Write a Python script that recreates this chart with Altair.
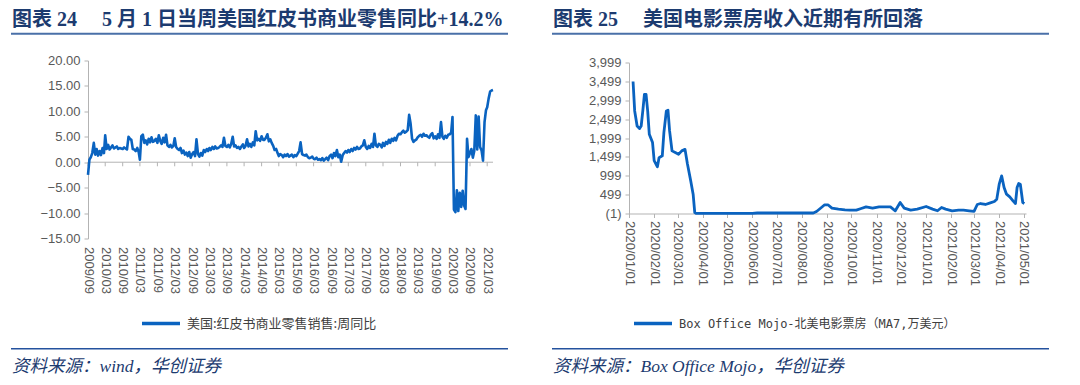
import altair as alt
import pandas as pd

# ---------------- left panel: Redbook weekly YoY (%), read twice a month ----------------
yoy_name = "美国:红皮书商业零售销售:周同比"
yoy_2009 = [-2.5, 0.5, 1.0, 1.8, 3.8, 1.5, 2.6, 1.3]
yoy_2010 = [2.2, 1.4, 2.8, 1.8, 5.3, 2.6, 3.4, 2.5, 2.9, 3.3, 2.7, 2.9,
            3.1, 2.6, 2.8, 2.7, 2.6, 2.9, 2.7, 2.5, 5.0, 4.6, 4.4, 2.6]
yoy_2011 = [2.5, 2.2, 2.8, 2.0, 0.5, 5.1, 5.4, 3.8, 4.3, 3.5, 4.6, 3.9,
            4.9, 4.0, 4.2, 4.6, 3.8, 5.3, 4.2, 3.6, 4.8, 3.9, 5.4, 3.3]
yoy_2012 = [3.0, 3.4, 2.9, 3.2, 4.7, 3.0, 2.6, 2.4, 2.8, 1.8, 2.3, 1.5,
            1.9, 1.2, 2.0, 0.9, 1.6, 2.0, 1.2, 4.5, 1.6, 1.1, 1.8, 1.3]
yoy_2013 = [2.4, 2.0, 2.6, 2.2, 2.8, 2.4, 3.0, 2.6, 3.1, 2.7, 2.8, 3.0,
            3.3, 3.0, 4.8, 3.2, 3.0, 3.4, 2.9, 3.6, 5.0, 3.1, 3.3, 2.8]
yoy_2014 = [3.0, 2.6, 3.1, 3.5, 2.8, 3.2, 4.5, 3.1, 3.6, 3.0, 3.9, 3.3,
            6.1, 4.3, 4.6, 4.2, 5.1, 4.4, 4.4, 4.8, 5.5, 4.1, 4.5, 3.8]
yoy_2015 = [3.2, 2.4, 2.6, 1.8, 1.2, 1.6, 1.4, 1.0, 1.5, 1.2, 1.6, 1.1,
            1.3, 1.5, 1.0, 1.4, 1.2, 1.7, 2.2, 3.9, 1.6, 1.4, 1.3, 1.5]
yoy_2016 = [1.0, 0.8, 0.9, 1.1, 0.7, 0.6, 0.9, 0.5, 0.6, 0.4, 0.8, 0.3,
            0.6, 0.9, 0.4, 1.2, 1.5, 0.8, 1.8, 1.2, 2.4, 1.0, 1.5, 0.1]
yoy_2017 = [1.4, 1.8, 2.2, 1.9, 2.4, 2.0, 2.6, 2.2, 2.8, 2.5, 3.0, 2.6,
            2.7, 3.1, 3.3, 4.3, 3.0, 2.6, 3.2, 2.8, 3.6, 3.0, 5.6, 3.3]
yoy_2018 = [3.0, 3.6, 3.4, 2.9, 3.8, 3.2, 4.0, 3.6, 4.4, 3.8, 4.6, 4.2,
            4.8, 4.3, 5.2, 5.6, 5.5, 5.9, 6.2, 5.8, 6.0, 6.3, 9.3, 7.6]
yoy_2019 = [4.6, 4.0, 4.3, 4.5, 4.9, 5.2, 5.4, 5.0, 5.6, 5.2, 5.3, 5.0,
            4.8, 5.4, 5.7, 4.7, 5.1, 4.6, 5.5, 4.8, 7.9, 5.0, 4.6, 5.2]
yoy_2020 = [4.8, 5.4, 5.5, 5.8, 8.9, -9.3, -9.8, -5.5, -9.6, -6.0, -8.8, -5.6,
            -8.5, -9.2, 4.6, 1.0, 1.8, 2.6, 0.9, 2.2, 9.2, 2.5, 9.0, 3.0]
yoy_2021 = [2.3, 0.3, 7.9, 10.2, 10.8, 12.5, 13.9, 14.1, 14.2]
yoy_values = (yoy_2009 + yoy_2010 + yoy_2011 + yoy_2012 + yoy_2013 + yoy_2014 + yoy_2015
              + yoy_2016 + yoy_2017 + yoy_2018 + yoy_2019 + yoy_2020 + yoy_2021)

yoy_dates = []
for m in pd.date_range("2009-09-01", "2021-04-01", freq="MS"):
    yoy_dates += [m.strftime("%Y-%m-%d"), (m + pd.Timedelta(days=15)).strftime("%Y-%m-%d")]
yoy_dates.append("2021-05-01")

yoy_ticks = ["2009/09", "2010/03", "2010/09", "2011/03", "2011/09", "2012/03", "2012/09",
             "2013/03", "2013/09", "2014/03", "2014/09", "2015/03", "2015/09", "2016/03",
             "2016/09", "2017/03", "2017/09", "2018/03", "2018/09", "2019/03", "2019/09",
             "2020/03", "2020/09", "2021/03"]
yoy_y_ticks = [-15, -10, -5, 0, 5, 10, 15, 20]

# ---------------- right panel: North America box office MA7 (10k USD) ----------------
box_name = "Box Office Mojo-北美电影票房（MA7,万美元）"
box_dates = ["2020-01-06", "2020-01-08", "2020-01-11", "2020-01-14", "2020-01-16", "2020-01-18",
             "2020-01-20", "2020-01-22", "2020-01-24", "2020-01-26", "2020-01-30", "2020-02-01",
             "2020-02-05", "2020-02-07", "2020-02-11", "2020-02-13", "2020-02-16", "2020-02-18",
             "2020-02-20", "2020-02-23", "2020-02-27", "2020-03-02", "2020-03-06", "2020-03-10",
             "2020-03-13", "2020-03-17", "2020-03-20", "2020-03-22", "2020-03-24", "2020-06-01",
             "2020-06-07", "2020-08-15", "2020-08-19", "2020-08-25", "2020-08-29", "2020-09-02",
             "2020-09-07", "2020-09-15", "2020-09-23", "2020-09-29", "2020-10-07", "2020-10-13",
             "2020-10-19", "2020-10-27", "2020-11-04", "2020-11-12", "2020-11-18", "2020-11-24",
             "2020-11-30", "2020-12-05", "2020-12-13", "2020-12-21", "2021-01-01", "2021-01-09",
             "2021-01-15", "2021-01-20", "2021-01-25", "2021-02-02", "2021-02-10", "2021-02-16",
             "2021-02-23", "2021-03-01", "2021-03-05", "2021-03-09", "2021-03-15", "2021-03-21",
             "2021-03-26", "2021-03-29", "2021-04-01", "2021-04-04", "2021-04-07", "2021-04-10",
             "2021-04-14", "2021-04-18", "2021-04-21", "2021-04-23", "2021-04-25", "2021-04-27",
             "2021-04-30", "2021-05-02"]
box_values = [3500, 2720, 2320, 2250, 2320, 2720,
              3160, 3160, 2720, 2100, 1880, 1400,
              1240, 1480, 1530, 2150, 2720, 2740,
              2190, 1660, 1615, 1570, 1660, 1700,
              1310, 870, 510, 25, 0, 0,
              12, 12, 53, 158, 230, 230,
              142, 115, 97, 88, 88, 132,
              175, 142, 175, 175, 175, 71,
              290, 142, 88, 115, 185, 115,
              71, 158, 115, 71, 88, 88,
              71, 53, 238, 264, 238, 282,
              318, 380, 776, 998, 688, 512,
              441, 335, 264, 688, 794, 776,
              290, 264]
box_ticks = ["2020/01/01", "2020/02/01", "2020/03/01", "2020/04/01", "2020/05/01", "2020/06/01",
             "2020/07/01", "2020/08/01", "2020/09/01", "2020/10/01", "2020/11/01", "2020/12/01",
             "2021/01/01", "2021/02/01", "2021/03/01", "2021/04/01", "2021/05/01"]
box_y_ticks = [-1, 499, 999, 1499, 1999, 2499, 2999, 3499, 3999]

# ---------------- text ----------------
NB = "\u00a0"
left_title = "图表" + NB + "24" + NB * 5 + "5" + NB + "月" + NB + "1" + NB + "日当周美国红皮书商业零售同比+14.2%"
right_title = "图表" + NB + "25" + NB * 5 + "美国电影票房收入近期有所回落"
left_source = "资料来源：wind，华创证券"
right_source = "资料来源：Box Office Mojo，华创证券"

# ---------------- styles ----------------
BLUE = "#0a63c0"
AX = "#b3b3b3"
LBL = "#595959"
NAVY = "#1c3b70"
RULE_TOP = "#4a70a8"
RULE_BOT = "#24529e"
NUM_FONT = "Liberation Sans"
CJK_FONT = "Noto Sans CJK SC"
MONO_FONT = "DejaVu Sans Mono, Noto Sans CJK SC"
TITLE_FONT = "Liberation Serif, Noto Sans CJK SC"


def dt(s):
    p = [int(v) for v in s.split("/")]
    return alt.DateTime(year=p[0], month=p[1], date=p[2] if len(p) > 2 else 1, utc=True)


one = pd.DataFrame({"k": [0]})


def text_layer(txt, x, y, font, size, color, weight="normal", style="normal"):
    return alt.Chart(one).mark_text(
        text=txt, align="left", baseline="alphabetic", font=font, fontSize=size,
        color=color, fontWeight=weight, fontStyle=style,
    ).encode(x=alt.value(x), y=alt.value(y))


def hrule(x1, x2, y, color, w):
    return alt.Chart(one).mark_rule(color=color, strokeWidth=w).encode(
        x=alt.value(x1), x2=alt.value(x2), y=alt.value(y))


def decorations(title, source):
    return [
        text_layer(title, -76, -34.5, TITLE_FONT, 20, NAVY, weight="bold"),
        hrule(-77, 420, -26.8, RULE_TOP, 2),
        hrule(-77, 420, 288.3, RULE_BOT, 1.6),
        text_layer(source, -76, 311.5, TITLE_FONT, 17.5, NAVY, style="italic"),
    ]


ax_common = dict(title=None, grid=False, labelFont=NUM_FONT, labelFontSize=13,
                 labelColor=LBL, domainColor=AX, tickColor=AX, domainWidth=1, tickWidth=1,
                 labelOverlap=False)

# ---------------- left panel ----------------
W1, H1 = 405, 178
yoy_df = pd.DataFrame({"date": yoy_dates, "value": yoy_values, "series": yoy_name})
x1_scale = alt.Scale(type="utc", domain=[dt("2009/09"), dt("2021/05/01")])
y1_scale = alt.Scale(domain=[-15, 20], nice=False, zero=False)
tick1_df = pd.DataFrame({"date": [s.replace("/", "-") + "-01" for s in yoy_ticks]})

# x axis line crossing at zero, with its tick marks (drawn through the scales)
zero_line = alt.Chart(one).mark_rule(color=AX, strokeWidth=1).encode(
    x=alt.value(0), x2=alt.value(W1), y=alt.YDatum(0, scale=y1_scale, axis=None))
zero_ticks = alt.Chart(tick1_df).mark_rule(color=AX, strokeWidth=1).encode(
    x=alt.X("date:T", scale=x1_scale, axis=None),
    y=alt.YDatum(0, axis=None), y2=alt.Y2Datum(-0.8))

line1 = alt.Chart(yoy_df).mark_line(strokeWidth=2.6, strokeJoin="round").encode(
    x=alt.X("date:T", scale=x1_scale, axis=alt.Axis(
        orient="bottom", values=[dt(s) for s in yoy_ticks],
        labelExpr="utcFormat(datum.value, '%Y/%m')", labelAngle=90, labelPadding=8,
        domain=False, ticks=False, **ax_common)),
    y=alt.Y("value:Q", scale=y1_scale, axis=alt.Axis(
        orient="left", values=yoy_y_ticks, format=".2f", tickSize=4, labelPadding=4,
        **ax_common)),
    color=alt.Color("series:N", scale=alt.Scale(range=[BLUE]), legend=alt.Legend(
        orient="none", legendX=52, legendY=242, title=None, symbolType="stroke",
        symbolSize=1444, symbolStrokeWidth=3.5, labelFont=CJK_FONT, labelFontSize=13,
        labelColor="#404040", labelOffset=5, padding=0, labelLimit=500)),
)

left = alt.layer(
    zero_line, zero_ticks, line1, *decorations(left_title, left_source)
).resolve_axis(x="independent", y="independent").properties(width=W1, height=H1)

# ---------------- right panel ----------------
W2, H2 = 397, 153
box_df = pd.DataFrame({"date": box_dates, "value": box_values, "series": box_name})
line2 = alt.Chart(box_df).mark_line(strokeWidth=2.8, strokeJoin="round").encode(
    x=alt.X("date:T", scale=alt.Scale(type="utc", domain=[dt("2020/01/01"), dt("2021/05/04")]),
            axis=alt.Axis(orient="bottom", values=[dt(s) for s in box_ticks],
                          labelExpr="utcFormat(datum.value, '%Y/%m/%d')", labelAngle=90,
                          tickSize=4, labelPadding=3, **ax_common)),
    y=alt.Y("value:Q", scale=alt.Scale(domain=[-1, 3999], nice=False, zero=False, range=[H2, 2.2]),
            axis=alt.Axis(values=box_y_ticks, tickSize=4, labelPadding=4,
                          labelExpr="datum.value < 0 ? '(' + format(-datum.value, ',') + ')' : format(datum.value, ',')",
                          **ax_common)),
    color=alt.Color("series:N", scale=alt.Scale(range=[BLUE]), legend=alt.Legend(
        orient="none", legendX=3, legendY=242, title=None, symbolType="stroke",
        symbolSize=1444, symbolStrokeWidth=3.5, labelFont=MONO_FONT, labelFontSize=12,
        labelColor="#404040", labelOffset=5, padding=0, labelLimit=500)),
)

right = alt.layer(line2, *decorations(right_title, right_source)).properties(width=W2, height=H2)

chart = alt.hconcat(left, right, spacing=42).resolve_scale(
    color="independent", x="independent", y="independent"
).properties(
    padding={"left": 2, "top": 1.5, "right": 0, "bottom": 0}, background="white"
).configure_view(stroke=None)

chart.save("out.html", embed_options={"renderer": "svg", "actions": False})
